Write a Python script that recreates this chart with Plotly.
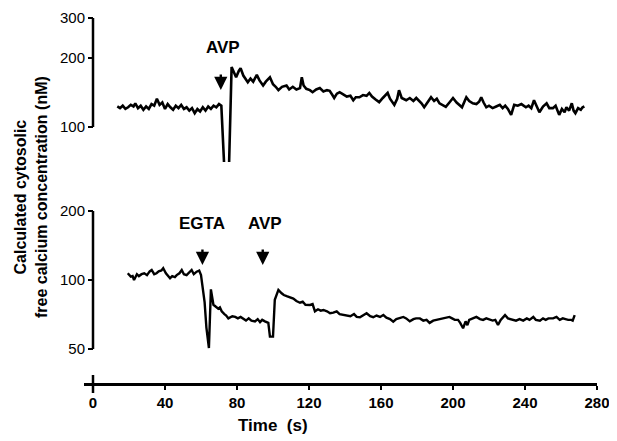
import plotly.graph_objects as go
import math

# ---- data ----
top_t = [13.5, 15, 16.5, 18, 19.5, 21, 22.5, 23.5, 25, 26.5, 28, 29.5, 31, 32.5, 34, 35.5, 37, 38.5, 40, 41.5,
         43, 44.5, 46, 47.5, 49, 50.5, 52, 53.5, 55, 56.5, 58, 59.5, 61, 62.5, 64, 65.5, 67, 68.5, 70, 71.3,
         73.2, 75.4, 77, 78.5, 79.5, 81, 82, 83.5, 85, 86, 87.5, 89, 91, 92.5, 94.5, 96, 98.3, 100, 101.5, 103,
         105, 107.5, 109, 111, 113, 115, 116, 117, 118.5, 120.5, 122, 124, 126, 128, 130, 131.5, 133, 134, 135.5, 137,
         139, 141, 143, 144.6, 146, 148, 150, 152, 153.5, 155, 157, 159, 161, 163.7, 165, 167.4, 169, 170, 171.5, 174,
         176, 178, 179.6, 181, 182.5, 184, 186, 187.8, 189.5, 191, 192.5, 194, 196, 198, 200, 202, 203.5, 205, 207.4, 209,
         211, 213, 214.5, 215.7, 217, 218.5, 220, 222, 224, 226, 227.6, 229, 230.5, 232.3, 234, 236, 238, 240.5, 242, 243.5,
         245, 246.5, 248, 250, 252, 253.5, 255.5, 257, 259, 260.5, 262, 263, 264.5, 266, 267, 268, 269.5, 271, 272, 273]
top_v = [123, 121, 124, 120, 122, 125, 123, 127, 121, 124, 119, 123, 120, 126, 124, 133, 125, 128, 120, 126,
         122, 119, 124, 121, 125, 120, 122, 118, 121, 115, 120, 117, 122, 118, 123, 120, 124, 122, 126, 124,
         60, 60, 183, 172, 165, 176, 181, 168, 162, 157, 163, 158, 169, 160, 152, 158, 165, 154, 150, 145,
         150, 152, 146, 150, 146, 148, 165, 152, 147, 145, 142, 146, 148, 143, 145, 144, 138, 134, 140, 142,
         139, 136, 137, 131, 135, 135, 138, 137, 141, 136, 132, 128.5, 134, 141, 133, 125, 133, 145, 134, 131,
         134, 130, 134, 131, 127, 122, 129, 135, 130, 133, 127, 125, 122.5, 128, 134, 128, 125, 122, 135, 130,
         127, 126, 129, 135, 128, 122, 124, 121, 123, 125, 121, 124, 120, 113, 125, 124, 126, 122, 124, 121,
         131, 124, 116, 123, 127, 121, 121, 124, 113, 120, 116, 122, 118, 127, 118, 115, 121, 119, 122, 123]

bot_t = [19.3, 20.2, 21, 22, 22.8, 24.4, 25.5, 27, 28.5, 30, 31.5, 32.6, 34, 35.3, 36.5, 38, 39, 40.5, 42, 42.8,
         44, 45.5, 46.5, 48, 49.3, 50.5, 52, 53.5, 54.8, 56, 57.6, 59, 60, 62, 63, 64.4, 65.5, 66.9, 68, 69.6,
         70.5, 71.5, 73, 74, 75.2, 77.4, 79, 80.5, 82, 83.5, 85, 86.5, 88, 90, 91.5, 92.8, 94, 95.5, 97.4, 98.3,
         100, 101, 103, 104.8, 106, 107.6, 109.5, 111.3, 113, 115, 116.5, 118, 120.6, 122, 123.3, 125, 126.5, 128, 130, 131.7,
         133.5, 135.4, 137, 139, 141, 143, 145, 146.5, 148.3, 150, 152, 154, 155.7, 157.5, 159.5, 161.3, 163, 165, 166.8, 168.5,
         170.5, 172.4, 174, 176, 178, 179.5, 181.6, 183.5, 185.3, 187, 189, 190.5, 192.6, 194.5, 196, 198, 199.5, 201, 202.8, 204,
         205.6, 207, 208, 209, 211, 213, 215, 216.7, 218.5, 220, 222, 223.5, 225, 226.5, 228.9, 230.5, 232, 233.5, 235, 237,
         239, 241, 242.5, 244.6, 246, 248.3, 250, 251.5, 253, 255.6, 257.5, 259.3, 261, 262.5, 264, 265.7, 266.5, 267.6]
bot_v = [107, 105, 103.4, 104, 100, 106, 104, 106, 107, 105, 109, 110.6, 106, 107, 109, 110, 112.5, 107, 103, 101.7,
         104, 103, 105, 107, 110.6, 106, 105, 108, 110.6, 106, 108.7, 110, 105, 80, 62, 50.5, 91, 78, 77, 75,
         76, 73, 71, 70, 68, 69.5, 69, 68, 69, 67.5, 66.5, 68, 66.5, 66, 67.5, 65.5, 67, 66, 65, 56.6,
         56.6, 82, 90.5, 87.5, 86, 85, 84, 83, 81, 79.6, 80.5, 78, 77.8, 78.5, 73, 74.5, 73.5, 74, 73, 71.6,
         72, 73, 71, 70.5, 70.3, 69.5, 71, 69, 68.8, 70, 71.6, 69.5, 68.8, 70, 69, 70.3, 68.5, 67.5, 65.8, 67.5,
         68, 69, 68, 66, 67.5, 68, 68, 66.5, 67, 65, 66.5, 67, 67.4, 68, 68.5, 69, 68, 67, 67, 65,
         61.6, 66, 63.5, 67, 68, 69, 67.5, 67, 68, 67.5, 66.5, 67, 63.6, 67, 70.3, 68, 67.5, 67, 66.5, 67.5,
         66.5, 68, 67, 69, 67, 66.5, 68, 67, 68, 68, 69, 67, 68, 67.5, 67, 67, 66.5, 70.3]

x_ticks = [0, 40, 80, 120, 160, 200, 240, 280]
top_ticks = [100, 200, 300]
bot_ticks = [50, 100, 200]

FONT = "Liberation Sans, Arial, sans-serif"
OFF = 8                      # page body margin of the browser
PAGE_W, PAGE_H = 617, 441
W, H = PAGE_W - OFF, PAGE_H - OFF
# plot area in page pixels: x 84..597, y 18..384
L, T = 84 - OFF, 18 - OFF
R, B = W - (597 - OFF), H - (384 - OFF)
PW, PH = W - L - R, H - T - B

def py(pix):  # page pixel row -> paper y
    return ((384 - OFF) - (pix - OFF)) / PH

def px(pix):  # page pixel column -> paper x
    return (pix - 84) / PW

yax_pos = px(93)

fig = go.Figure()
fig.add_trace(go.Scatter(x=top_t, y=top_v, mode="lines", xaxis="x", yaxis="y",
                         line=dict(color="black", width=2.6), showlegend=False, hoverinfo="skip"))
fig.add_trace(go.Scatter(x=bot_t, y=bot_v, mode="lines", xaxis="x", yaxis="y2",
                         line=dict(color="black", width=2.4), showlegend=False, hoverinfo="skip"))

fig.update_layout(
    template="none",
    width=W, height=H,
    margin=dict(l=L, r=R, t=T, b=B, pad=0, autoexpand=False),
    paper_bgcolor="white", plot_bgcolor="white",
    font=dict(family=FONT, color="black"),
    xaxis=dict(range=[-5, 280], tickvals=x_ticks, showgrid=False, zeroline=False, automargin=False,
               showline=True, linecolor="black", linewidth=2.5,
               ticks="outside", ticklen=4, tickwidth=2, tickcolor="black",
               anchor="free", position=0,
               tickfont=dict(family=FONT, size=15, color="black", weight="bold")),
    yaxis=dict(type="log", domain=[py(162), 1.0], range=[math.log10(70.3), math.log10(300)],
               tickvals=top_ticks, ticktext=[str(v) for v in top_ticks], automargin=False,
               showgrid=False, zeroline=False, showline=False,
               ticks="outside", ticklen=5, tickwidth=2, tickcolor="black",
               anchor="free", position=yax_pos,
               tickfont=dict(family=FONT, size=15, color="black")),
    yaxis2=dict(type="log", domain=[py(357.3), py(203.8)], range=[math.log10(46), math.log10(215)],
                tickvals=bot_ticks, ticktext=[str(v) for v in bot_ticks], automargin=False,
                showgrid=False, zeroline=False, showline=False,
                ticks="outside", ticklen=5, tickwidth=2, tickcolor="black",
                anchor="free", position=yax_pos,
                tickfont=dict(family=FONT, size=15, color="black")),
)

# y axis lines spanning only the labelled ranges
fig.add_shape(type="line", xref="paper", yref="y", x0=yax_pos, x1=yax_pos, y0=top_ticks[0], y1=top_ticks[-1],
              line=dict(color="black", width=2.5))
fig.add_shape(type="line", xref="paper", yref="y2", x0=yax_pos, x1=yax_pos, y0=bot_ticks[0], y1=bot_ticks[-1],
              line=dict(color="black", width=2.5))
# cross at the origin of the time axis
fig.add_shape(type="line", xref="x", yref="paper", x0=0, x1=0, y0=py(393), y1=py(375),
              line=dict(color="black", width=2.5))

# labels and arrows
def label(text, x, y, size=17, angle=0):
    fig.add_annotation(text=text, xref="paper", yref="paper", x=px(x), y=py(y),
                       xanchor="center", yanchor="middle", showarrow=False,
                       textangle=angle, font=dict(size=size))

label("<b>AVP</b>", 222.5, 47.5)
label("<b>EGTA</b>", 202, 224)
label("<b>AVP</b>", 265, 224)
for xt, tip in [(71.0, 90), (60.8, 265), (94.3, 265)]:
    fig.add_annotation(text="", xref="x", yref="paper", x=xt, y=py(tip), ax=0, ay=-17,
                       showarrow=True, arrowhead=2, arrowsize=1.1, arrowwidth=2.4, arrowcolor="black")

label("<b>Calculated cytosolic<br>free calcium concentration (nM)</b>", 31, 197, size=16, angle=-90)
label("<b>Time\u00a0 (s)</b>", 273, 425)

fig.write_html("out.html")
